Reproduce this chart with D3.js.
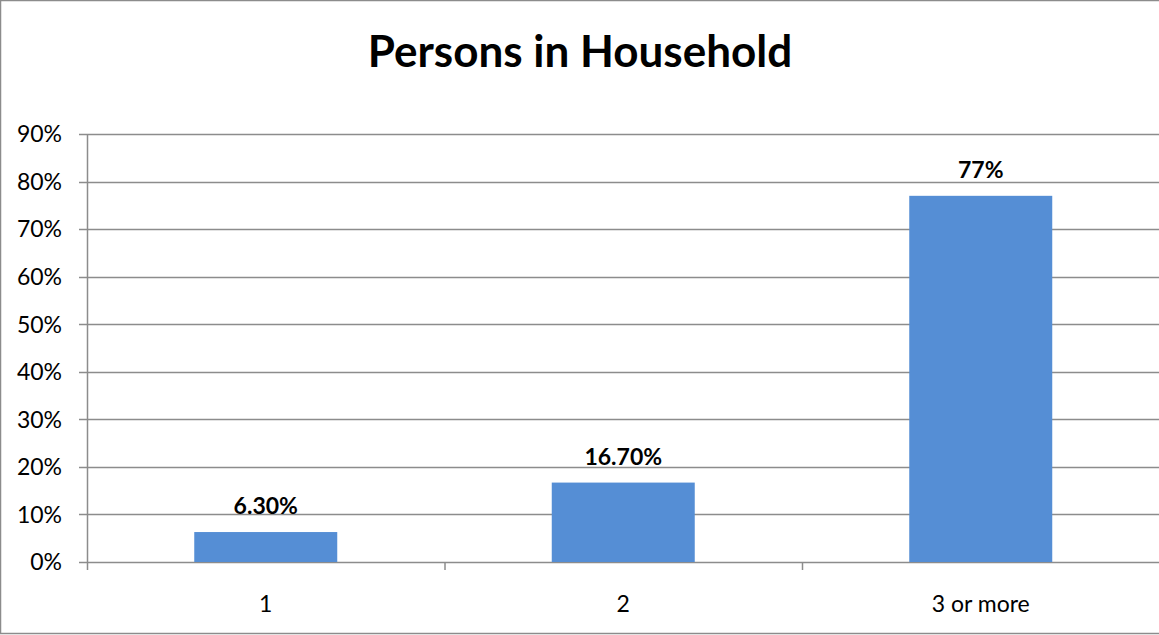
<!DOCTYPE html>
<html><head><meta charset="utf-8">
<script src="https://cdn.jsdelivr.net/npm/d3@7"></script>
<style>body{margin:0;background:#fff}svg{display:block}</style>
</head><body>
<svg id="c" width="1159" height="635"></svg>
<script>
const title = "Persons in Household";
const categories = ["1", "2", "3 or more"];
const values = [6.3, 16.7, 77];
const valueLabels = ["6.30%", "16.70%", "77%"];
const yTicks = [0, 10, 20, 30, 40, 50, 60, 70, 80, 90];

const svg = d3.select("#c");
const W = 1159, H = 635;
const m = {left: 87, right: 0, top: 134, bottom: 73};
const font = "Lato, 'Open Sans', sans-serif";

svg.append("rect").attr("x", 0.5).attr("y", 0.5).attr("width", W + 10).attr("height", H - 2)
  .attr("fill", "#fff").attr("stroke", "#8c8c8c").attr("stroke-width", 1.5);

const x = d3.scaleBand().domain(categories).range([m.left, m.left + 1072.5]).paddingInner(0.6).paddingOuter(0.3);
const xo = d3.scaleBand().domain(categories).range([m.left, m.left + 1072.5]);
const y = d3.scaleLinear().domain([0, 90]).range([H - m.bottom, m.top]);

// gridlines
svg.append("g").selectAll("line").data(yTicks).join("line")
  .attr("x1", m.left - 8).attr("x2", W).attr("y1", d => Math.round(y(d)) + 0.5).attr("y2", d => Math.round(y(d)) + 0.5)
  .attr("stroke", "#8c8c8c").attr("stroke-width", 1.5);

// y axis labels
svg.append("g").selectAll("text").data(yTicks).join("text")
  .attr("x", m.left - 25).attr("y", d => y(d)).attr("dy", "0.36em")
  .attr("text-anchor", "end").attr("font-family", font).attr("font-size", 23).attr("fill", "#000")
  .text(d => d + "%");

// y axis line
svg.append("line").attr("x1", m.left + 0.5).attr("x2", m.left + 0.5).attr("y1", m.top).attr("y2", y(0) + 8)
  .attr("stroke", "#8c8c8c").attr("stroke-width", 1.5);

// x tick marks
const bounds = categories.slice(1).map(c => xo(c));
svg.append("g").selectAll("line").data(bounds).join("line")
  .attr("x1", d => d + 0.5).attr("x2", d => d + 0.5).attr("y1", y(0)).attr("y2", y(0) + 8)
  .attr("stroke", "#8c8c8c").attr("stroke-width", 1.5);

// bars
svg.append("g").selectAll("rect").data(values).join("rect")
  .attr("x", (d, i) => x(categories[i])).attr("width", x.bandwidth())
  .attr("y", d => y(d)).attr("height", d => y(0) - y(d))
  .attr("fill", "#558ed5");

// value labels
svg.append("g").selectAll("text").data(values).join("text")
  .attr("x", (d, i) => x(categories[i]) + x.bandwidth() / 2).attr("y", d => y(d) - 18)
  .attr("text-anchor", "middle").attr("font-family", font).attr("font-size", 23).attr("font-weight", "bold")
  .text((d, i) => valueLabels[i]);

// x labels
svg.append("g").selectAll("text").data(categories).join("text")
  .attr("x", d => xo(d) + xo.bandwidth() / 2).attr("y", 612)
  .attr("text-anchor", "middle").attr("font-family", font).attr("font-size", 23)
  .text(d => d);

// title
svg.append("text").attr("x", 580).attr("y", 67).attr("text-anchor", "middle")
  .attr("font-family", font).attr("font-size", 44).attr("font-weight", "bold").text(title);
</script>
</body></html>
